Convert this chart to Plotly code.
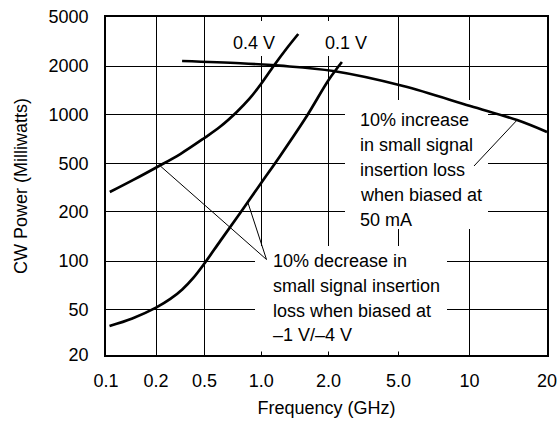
import numpy as np
import plotly.graph_objects as go

# ---------------- data ----------------
X_TICKS = [0.1, 0.2, 0.5, 1.0, 2.0, 5.0, 10.0, 20.0]
X_TICK_TEXT = ["0.1", "0.2", "0.5", "1.0", "2.0", "5.0", "10", "20"]
Y_TICKS = [20, 50, 100, 200, 500, 1000, 2000, 5000]
Y_TICK_TEXT = ["20", "50", "100", "200", "500", "1000", "2000", "5000"]

# 0.4 V bias curve (GHz, mW)
FREQ_04V = [0.1054, 0.146, 0.201, 0.316, 0.491, 0.606, 0.743, 0.863, 0.996, 1.135, 1.303, 1.463]
POWER_04V = [290, 365, 462, 570, 710, 841, 1038, 1246, 1545, 2000, 2800, 3638]

# 0.1 V bias curve (GHz, mW)
FREQ_01V = [0.105, 0.144, 0.2, 0.262, 0.328, 0.404, 0.5, 0.606, 0.774, 1.0, 1.216, 1.601, 2.0, 2.38]
POWER_01V = [35.8, 41.6, 51.2, 58.0, 66.5, 78.5, 96.9, 132.7, 197, 346, 557, 980, 1636, 2155]

# 50 mA bias curve (GHz, mW)
FREQ_50MA = [0.327, 0.774, 1.207, 2.126, 5.23, 10.06, 15.3, 20.0]
POWER_50MA = [2196, 2106, 2011, 1861, 1501, 1126, 922, 779]

# points on the curves that the callout leaders touch (GHz, mW)
DECREASE_TARGETS = [(0.217, 475), (0.85, 236)]
INCREASE_TARGET = (15.3, 922)

CURVE_LABELS = ["0.4 V", "0.1 V"]
INCREASE_TEXT = ["10% increase", "in small signal", "insertion loss", "when biased at", "50 mA"]
DECREASE_TEXT = ["10% decrease in", "small signal insertion", "loss when biased at", "\u20131 V/\u20134 V"]

# ---------------- axis layout (non-uniform tick spacing of the original) ----------------
X_GRID_POS = [0.0, 0.1134, 0.2236, 0.3522, 0.5048, 0.6635, 0.8245, 1.0]
Y_GRID_POS = [0.0, 0.1352, 0.2781, 0.4240, 0.5672, 0.7121, 0.8550, 1.0]


def wx(v):
    return np.interp(np.log10(v), np.log10(X_TICKS), X_GRID_POS)


def wy(v):
    return np.interp(np.log10(v), np.log10(Y_TICKS), Y_GRID_POS)


W, H = 557, 430
ML, MR, MT, MB = 106, 10, 17, 75
PW, PH = W - ML - MR, H - MT - MB


def px(x):  # window pixel -> axis fraction
    return (x - ML) / PW


def py(y):
    return (H - MB - y) / PH


FONT = "Liberation Sans, Arial, Helvetica, sans-serif"
FS = 18

fig = go.Figure()
for fx, fy, name in [(FREQ_04V, POWER_04V, "0.4 V"),
                     (FREQ_01V, POWER_01V, "0.1 V"),
                     (FREQ_50MA, POWER_50MA, "50 mA")]:
    fig.add_trace(go.Scatter(
        x=wx(fx), y=wy(fy), mode="lines", name=name,
        line=dict(color="black", width=2.7, shape="spline", smoothing=1.0),
        hoverinfo="skip", showlegend=False))

shapes = []
# white boxes behind labels (hide grid, stay under curves)
for (x0, y0, x1, y1) in [(345, 100, 488, 229), (255, 246, 447, 351.5),
                         (231, 21, 277, 56), (322, 21, 370, 56)]:
    shapes.append(dict(type="rect", xref="x", yref="y", layer="between",
                       x0=px(x0), x1=px(x1), y0=py(y1), y1=py(y0),
                       fillcolor="white", line=dict(width=0)))
# leader lines
apex = (px(266.5), py(259.5))
for fx, fy in DECREASE_TARGETS:
    shapes.append(dict(type="line", xref="x", yref="y", layer="above",
                       x0=apex[0], y0=apex[1], x1=float(wx(fx)), y1=float(wy(fy)),
                       line=dict(color="black", width=1)))
shapes.append(dict(type="line", xref="x", yref="y", layer="above",
                   x0=px(474), y0=py(166), x1=float(wx(INCREASE_TARGET[0])),
                   y1=float(wy(INCREASE_TARGET[1])),
                   line=dict(color="black", width=1)))

annotations = []
for txt, cx in zip(CURVE_LABELS, [253.7, 346.3]):
    annotations.append(dict(x=px(cx), y=py(43), xref="x", yref="y", text=txt,
                            showarrow=False, xanchor="center", yanchor="middle",
                            font=dict(family=FONT, size=FS, color="black")))
for i, txt in enumerate(INCREASE_TEXT):
    annotations.append(dict(x=px(357.5), y=py(120 + 25 * i), xref="x", yref="y", text=txt,
                            showarrow=False, xanchor="left", yanchor="middle",
                            font=dict(family=FONT, size=FS, color="black")))
for i, txt in enumerate(DECREASE_TEXT):
    annotations.append(dict(x=px(271), y=py(261 + 24.8 * i), xref="x", yref="y", text=txt,
                            showarrow=False, xanchor="left", yanchor="middle",
                            font=dict(family=FONT, size=FS, color="black")))

axis_common = dict(showgrid=True, gridcolor="black", gridwidth=1.3,
                   showline=True, linecolor="black", linewidth=1.6, mirror=True,
                   zeroline=False, ticks="", range=[0, 1], fixedrange=True,
                   automargin=False, ticklabeloverflow="allow",
                   tickfont=dict(family=FONT, size=FS, color="black"))

fig.update_layout(
    width=W, height=H,
    margin=dict(l=ML, r=MR, t=MT, b=MB, pad=0, autoexpand=False),
    paper_bgcolor="white", plot_bgcolor="white",
    font=dict(family=FONT, size=FS, color="black"),
    xaxis=dict(**axis_common, tickmode="array", tickvals=X_GRID_POS, ticktext=X_TICK_TEXT,
               ticklabelstandoff=9,
               title=dict(text="Frequency (GHz)", standoff=11,
                          font=dict(family=FONT, size=FS, color="black"))),
    yaxis=dict(**axis_common, tickmode="array", tickvals=Y_GRID_POS, ticktext=Y_TICK_TEXT,
               ticklabelstandoff=12,
               title=dict(text="CW Power (Milliwatts)", standoff=16,
                          font=dict(family=FONT, size=FS, color="black"))),
    shapes=shapes, annotations=annotations,
)

# the page's default body margin would shift the figure; remove it
fig.write_html("out.html", config={"displayModeBar": False},
               post_script="document.body.style.margin='0';document.body.style.overflow='hidden';")
